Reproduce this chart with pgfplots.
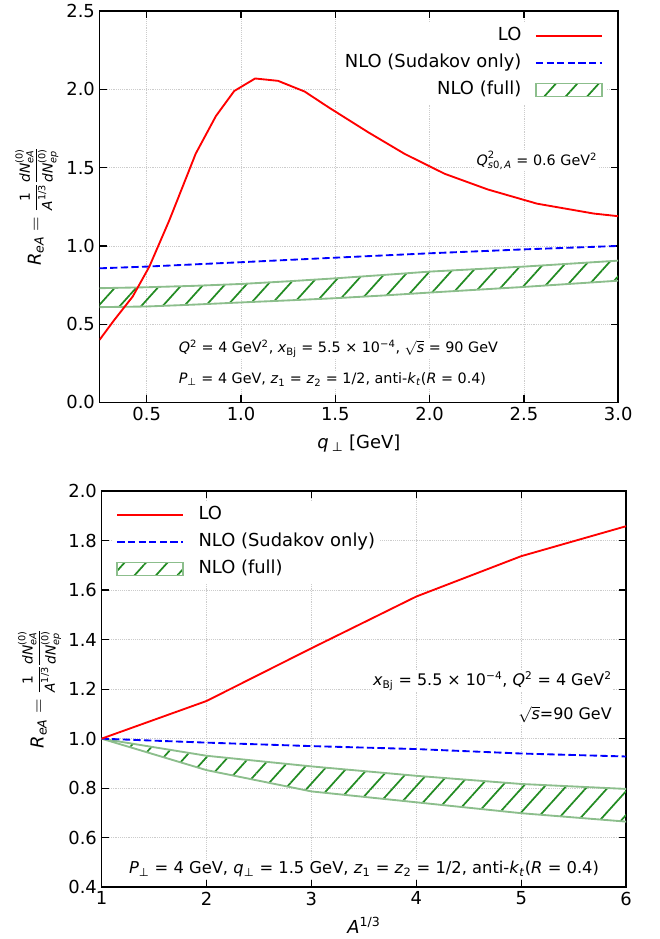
\documentclass[border=0pt]{standalone}
\usepackage{fontspec}
\setmainfont{DejaVu Sans}
\usepackage{amsmath}
\usepackage{graphicx}
\usepackage{pgfplots}
\pgfplotsset{compat=1.18}
\usepgfplotslibrary{fillbetween}
\usetikzlibrary{patterns.meta}

\definecolor{hatchgreen}{RGB}{34,139,34}
\definecolor{edgegreen}{RGB}{140,190,140}

\newcommand{\T}[1]{\text{#1}}
\newcommand{\I}[1]{\textit{#1}}
\newcommand{\tickfont}{\fontsize{13.5}{16}\selectfont}
\newcommand{\annfont}{\fontsize{12}{14}\selectfont}
\newcommand{\smallann}{\fontsize{10.8}{13}\selectfont}
\newcommand{\reaLabel}{$\T{\I{R}}_{\T{\I{eA}}} = \raisebox{0.8pt}{\scalebox{0.77}{$\dfrac{\T{1}}{\T{\I{A}}^{\T{1/3}}}\dfrac{\T{\I{dN}}^{\T{(0)}}_{\T{\I{eA}}}}{\T{\I{dN}}^{\T{(0)}}_{\T{\I{ep}}}}$}}$}

\pgfplotsset{
  rea/.style={
    scale only axis,
    axis line style={line width=1.2pt},
    tick style={black, line width=0.9pt},
    major tick length=5.5pt,
    tick align=inside,
    grid=major,
    grid style={densely dotted, gray!40, line width=0.6pt},
    tick label style={font=\tickfont},
    label style={font=\tickfont},
    legend style={font=\tickfont, draw=none, fill=white, inner xsep=3pt, inner ysep=3pt,
      nodes={inner sep=1pt, text height=10pt, text depth=3.5pt}, row sep=4.75pt},
    legend image code/.code={\draw[#1] (0pt,0pt) -- (49.5pt,0pt);},
    yticklabel style={/pgf/number format/.cd, fixed, fixed zerofill, precision=1, assume math mode=true},
    xticklabel style={/pgf/number format/assume math mode=true},
  },
  band/.style={pattern={Lines[angle=48, distance=12pt, line width=1.3pt]}, pattern color=hatchgreen, draw=none},
  bandedge/.style={edgegreen, line width=1.4pt},
  bandlegend/.style={legend image code/.code={\draw[edgegreen, line width=1.4pt, pattern={Lines[angle=48, distance=12pt, line width=1.3pt]}, pattern color=hatchgreen] (0pt,-4.9pt) rectangle (49.5pt,4.9pt);}},
  lo/.style={red, line width=1.4pt},
  sud/.style={blue, dash pattern=on 5.5pt off 2.5pt, line width=1.4pt},
}

\begin{document}
\begin{tikzpicture}

% ---- top panel: R_eA vs q_perp
\begin{axis}[rea,
  at={(75pt,-300pt)}, anchor=south west,
  width=390.75pt, height=294.75pt,
  xmin=0.25, xmax=3.0, ymin=0, ymax=2.5,
  xtick={0.5,1.0,1.5,2.0,2.5,3.0},
  ytick={0,0.5,1.0,1.5,2.0,2.5},
  xticklabel style={/pgf/number format/.cd, fixed, fixed zerofill, precision=1},
  xlabel={\I{q}\,$_{\T{⊥}}$ [GeV]},
  xlabel style={at={(axis description cs:0.5,-0.119)}, anchor=base},
  ylabel={\reaLabel},
  ylabel style={at={(axis description cs:-0.121,0.5)}, anchor=center},
  legend cell align=right, legend plot pos=right,
  legend style={at={(axis description cs:0.978,0.973)}, anchor=north east, column sep=9.25pt},
]
\addplot[name path=tu, bandedge, forget plot] coordinates {
  (0.25,0.730) (0.5,0.736) (0.75,0.745) (1.0,0.757) (1.25,0.774) (1.5,0.793)
  (1.75,0.814) (2.0,0.836) (2.25,0.852) (2.5,0.868) (2.75,0.887) (3.0,0.906)};
\addplot[name path=tl, bandedge, forget plot] coordinates {
  (0.25,0.609) (0.5,0.613) (0.75,0.625) (1.0,0.639) (1.25,0.652) (1.5,0.666)
  (1.75,0.683) (2.0,0.702) (2.25,0.720) (2.5,0.738) (2.75,0.758) (3.0,0.778)};
\addplot[band, forget plot] fill between[of=tu and tl];
\addplot[sud, forget plot] coordinates {
  (0.25,0.857) (0.5,0.868) (0.75,0.882) (1.0,0.896) (1.5,0.925) (2.0,0.953) (2.5,0.978) (3.0,1.0)};
\addplot[lo, forget plot] coordinates {
  (0.25,0.40) (0.33,0.53) (0.426,0.677) (0.514,0.868) (0.62,1.164) (0.76,1.59)
  (0.867,1.83) (0.964,1.99) (1.075,2.07) (1.196,2.055) (1.337,1.987) (1.464,1.886)
  (1.675,1.726) (1.868,1.588) (2.08,1.461) (2.308,1.361) (2.57,1.27) (2.87,1.207) (3.0,1.19)};
\addlegendimage{lo}
\addlegendentry{LO}
\addlegendimage{sud}
\addlegendentry{NLO (Sudakov only)}
\addlegendimage{bandlegend}
\addlegendentry{NLO (full)}
\node[anchor=east, fill=white, inner sep=1pt, font=\smallann] at (axis cs:2.897,1.544)
  {$\T{\I{Q}}^{\T{2}}_{\T{\I{s}0,\,\I{A}}}$ = 0.6 GeV$^{\T{2}}$};
\node[anchor=west, fill=white, inner sep=1pt, font=\smallann] at (axis cs:0.662,0.343)
  {\I{Q}$^{\T{2}}$ = 4 GeV$^{\T{2}}$, \I{x}$_{\T{Bj}}$ = 5.5 × 10$^{\T{−4}}$, $\sqrt{\T{\I{s}}}$ = 90 GeV};
\node[anchor=west, fill=white, inner sep=1pt, font=\smallann] at (axis cs:0.662,0.146)
  {\I{P}$_{\T{⊥}}$ = 4 GeV, \I{z}$_{\T{1}}$ = \I{z}$_{\T{2}}$ = 1/2, anti-\I{k}$_{\T{\I{t}}}$(\I{R} = 0.4)};
\end{axis}

% ---- bottom panel: R_eA vs A^{1/3}
\begin{axis}[rea,
  at={(76.5pt,-665.25pt)}, anchor=south west,
  width=395.25pt, height=298.5pt,
  xmin=1, xmax=6, ymin=0.4, ymax=2.0,
  xtick={1,2,3,4,5,6},
  ytick={0.4,0.6,0.8,1.0,1.2,1.4,1.6,1.8,2.0},
  xlabel={\I{A}$^{\T{1/3}}$},
  xlabel style={at={(axis description cs:0.5,-0.1156)}, anchor=base},
  ylabel={\reaLabel},
  ylabel style={at={(axis description cs:-0.118,0.5)}, anchor=center},
  legend cell align=left,
  legend style={at={(axis description cs:0.0202,0.9757)}, anchor=north west, column sep=10pt},
]
\addplot[name path=bu, bandedge, forget plot] coordinates {
  (1,1.0) (2,0.931) (3,0.888) (4,0.850) (5,0.817) (6,0.797)};
\addplot[name path=bl, bandedge, forget plot] coordinates {
  (1,1.0) (2,0.873) (3,0.787) (4,0.743) (5,0.699) (6,0.665)};
\addplot[band, forget plot] fill between[of=bu and bl];
\addplot[sud, forget plot] coordinates {
  (1,1.0) (2,0.984) (3,0.970) (4,0.958) (5,0.940) (6,0.928)};
\addplot[lo, forget plot] coordinates {
  (1,1.0) (2,1.152) (3,1.365) (4,1.574) (5,1.737) (6,1.858)};
\addlegendimage{lo}
\addlegendentry{LO}
\addlegendimage{sud}
\addlegendentry{NLO (Sudakov only)}
\addlegendimage{bandlegend}
\addlegendentry{NLO (full)}
\node[anchor=east, fill=white, inner sep=1pt, font=\annfont] at (axis cs:5.877,1.232)
  {\I{x}$_{\T{Bj}}$ = 5.5 × 10$^{\T{−4}}$, \I{Q}$^{\T{2}}$ = 4 GeV$^{\T{2}}$};
\node[anchor=east, fill=white, inner sep=1pt, font=\annfont] at (axis cs:5.877,1.098)
  {$\sqrt{\T{\I{s}}}$=90 GeV};
\node[anchor=west, fill=white, inner sep=1pt, font=\fontsize{12.3}{14}\selectfont] at (axis cs:1.247,0.472)
  {\I{P}$_{\T{⊥}}$ = 4 GeV, \I{q}$_{\T{⊥}}$ = 1.5 GeV, \I{z}$_{\T{1}}$ = \I{z}$_{\T{2}}$ = 1/2, anti-\I{k}$_{\T{\I{t}}}$(\I{R} = 0.4)};
\end{axis}
\useasboundingbox (0,0) rectangle (496.5pt,-704.25pt);
\end{tikzpicture}
\end{document}
